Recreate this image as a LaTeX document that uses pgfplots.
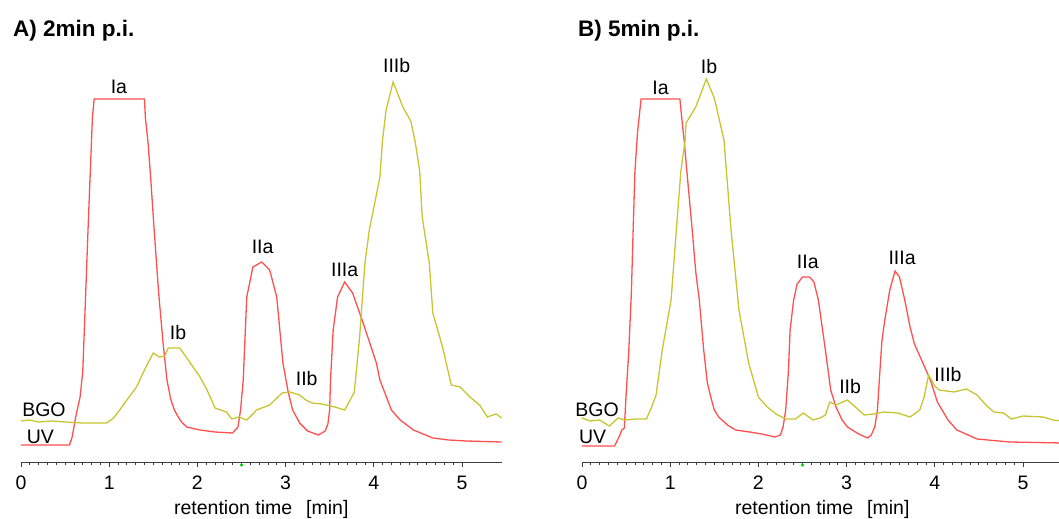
\documentclass[border=0pt]{standalone}
\usepackage{pgfplots}
\pgfplotsset{compat=1.18}
\usepackage{fontspec}
\setmainfont{Liberation Sans}
\definecolor{uvred}{RGB}{255,80,80}
\definecolor{bgoyel}{RGB}{200,196,50}
\definecolor{axgray}{RGB}{60,60,60}
\newcommand{\lbl}{\fontsize{19.5bp}{22bp}\selectfont}
\tikzset{pk/.style={font=\lbl, inner sep=0pt}}
\pgfplotsset{
  chrom/.style={
    scale only axis, width=480.6bp, height=400bp,
    xmin=0, xmax=5.45, ymin=0, ymax=400,
    axis x line=bottom, x axis line style={-, axgray, line width=0.8bp},
    hide y axis, clip=false,
    xtick={0,1,2,3,4,5}, minor x tick num=9,
    tick align=outside, major tick length=5bp, minor tick length=3bp,
    every tick/.style={axgray, line width=0.7bp},
    /pgf/number format/assume math mode=true,
    xticklabel style={font=\lbl, text=black, yshift=-5.5bp},
    xlabel={retention time\hspace{14bp}[min]},
    every axis x label/.style={at={(axis description cs:0.5,0)}, anchor=center, yshift=-47bp, font=\lbl},
  },
  uv/.style={color=uvred, line width=1.3bp, mark=none},
  bgo/.style={color=bgoyel, line width=1.3bp, mark=none},
}
\begin{document}
\begin{tikzpicture}
\useasboundingbox (-21bp,-57bp) rectangle (1038bp,462bp);
% ---------------- A ----------------
\begin{axis}[chrom, at={(0,0)}, anchor=south west]
\addplot[uv] coordinates {
(0,17) (0.55,17) (0.58,25) (0.62,45) (0.67,65) (0.70,90) (0.73,160) (0.76,232) (0.79,300) (0.81,345) (0.83,363)
(1.40,363) (1.41,345) (1.44,320) (1.47,285) (1.51,232) (1.56,170) (1.61,120) (1.655,82) (1.70,62) (1.74,52) (1.77,47)
(1.82,40) (1.88,35) (2.03,32) (2.20,30) (2.40,29) (2.46,35) (2.49,52) (2.52,82) (2.56,165) (2.63,195) (2.73,200)
(2.82,192) (2.90,165) (2.97,99) (3.03,70) (3.08,52) (3.16,39) (3.25,31) (3.37,27) (3.45,31) (3.48,38) (3.50,52)
(3.51,82) (3.54,132) (3.59,165) (3.67,180) (3.76,169) (3.88,139) (4.03,99) (4.07,82) (4.20,52) (4.30,42) (4.45,32)
(4.67,24) (4.85,22) (5.05,21) (5.45,20)
};
\addplot[bgo] coordinates {
(0,41) (0.1,42) (0.2,40) (0.35,41) (0.5,40) (0.7,39) (0.97,39) (1.05,44) (1.12,52) (1.20,62) (1.31,75) (1.40,92)
(1.50,109) (1.57,105) (1.63,106) (1.67,114) (1.80,114) (1.92,99) (2.03,85) (2.11,72) (2.20,54) (2.33,50) (2.39,43)
(2.47,45) (2.56,42) (2.63,48) (2.67,52) (2.82,57) (2.96,69) (3.05,70) (3.16,67) (3.23,62) (3.30,59) (3.41,58)
(3.56,55) (3.67,52) (3.72,60) (3.78,70) (3.84,125) (3.90,199) (3.95,232) (4.07,285) (4.10,322) (4.14,352)
(4.22,380) (4.33,355) (4.42,341) (4.47,320) (4.52,292) (4.55,245) (4.63,199) (4.67,149) (4.78,115) (4.88,77)
(4.98,75) (5.09,65) (5.20,57) (5.29,45) (5.35,47) (5.39,48) (5.45,44)
};
\addplot[only marks, mark=*, mark size=1.3bp, color=green!80!black] coordinates {(2.5,-3)};
\node[pk] at (axis cs:1.11,375) {Ia};
\node[pk] at (axis cs:4.26,396) {IIIb};
\node[pk] at (axis cs:2.74,215) {IIa};
\node[pk] at (axis cs:3.67,192) {IIIa};
\node[pk] at (axis cs:1.78,129) {Ib};
\node[pk] at (axis cs:3.24,83) {IIb};
\node[pk] at (axis cs:0.26,52) {BGO};
\node[pk] at (axis cs:0.22,25) {UV};
\end{axis}
% ---------------- B ----------------
\begin{axis}[chrom, at={(561bp,0)}, anchor=south west]
\addplot[uv] coordinates {
(0,16) (0.37,16) (0.43,27) (0.45,32) (0.48,34) (0.50,67) (0.53,110) (0.56,170) (0.58,232) (0.60,290) (0.63,330) (0.67,363)
(1.11,363) (1.13,345) (1.16,320) (1.20,280) (1.25,232) (1.29,190) (1.33,162) (1.38,112) (1.42,80) (1.46,65) (1.50,52)
(1.55,45) (1.65,37) (1.74,32) (1.90,30) (2.04,28) (2.19,25) (2.25,27) (2.28,35) (2.31,52) (2.34,90) (2.36,132)
(2.40,162) (2.44,178) (2.50,185) (2.58,185) (2.63,180) (2.68,162) (2.76,112) (2.82,72) (2.88,55) (2.95,42) (3.01,35)
(3.10,30) (3.16,27) (3.24,24) (3.28,27) (3.32,35) (3.35,52) (3.37,80) (3.40,120) (3.43,140) (3.49,172) (3.55,191)
(3.60,185) (3.66,162) (3.72,135) (3.77,118) (3.86,100) (3.95,82) (4.03,60) (4.15,42) (4.25,32) (4.48,23) (4.85,20) (5.45,19)
};
\addplot[bgo] coordinates {
(0,44) (0.09,41) (0.2,42) (0.31,36) (0.41,44) (0.48,42) (0.62,43) (0.73,43) (0.79,55) (0.84,67) (0.91,112) (1.01,162)
(1.07,232) (1.12,290) (1.17,322) (1.18,339) (1.29,355) (1.41,383) (1.50,364) (1.55,345) (1.61,322) (1.69,232)
(1.78,152) (1.89,99) (2.0,65) (2.10,55) (2.20,48) (2.31,43) (2.42,43) (2.51,49) (2.62,42) (2.70,44) (2.76,47)
(2.81,60) (2.88,57) (3.01,62) (3.10,55) (3.20,47) (3.30,48) (3.43,50) (3.58,49) (3.72,45) (3.83,52) (3.88,65)
(3.93,87) (4.0,76) (4.05,72) (4.22,70) (4.36,73) (4.48,67) (4.58,57) (4.67,50) (4.78,49) (4.87,43) (5.0,46)
(5.23,45) (5.34,42) (5.45,41)
};
\addplot[only marks, mark=*, mark size=1.3bp, color=green!80!black] coordinates {(2.5,-3)};
\node[pk] at (axis cs:0.89,374) {Ia};
\node[pk] at (axis cs:1.44,395) {Ib};
\node[pk] at (axis cs:2.56,200) {IIa};
\node[pk] at (axis cs:3.63,204) {IIIa};
\node[pk] at (axis cs:3.04,75) {IIb};
\node[pk] at (axis cs:4.15,87) {IIIb};
\node[pk] at (axis cs:0.17,52) {BGO};
\node[pk] at (axis cs:0.12,25) {UV};
\end{axis}
\node[anchor=west, font=\fontsize{22.5bp}{26bp}\selectfont\bfseries, inner sep=0pt] at (-8bp,431bp) {A) 2min p.i.};
\node[anchor=west, font=\fontsize{22.5bp}{26bp}\selectfont\bfseries, inner sep=0pt] at (557bp,431bp) {B) 5min p.i.};
\end{tikzpicture}
\end{document}
